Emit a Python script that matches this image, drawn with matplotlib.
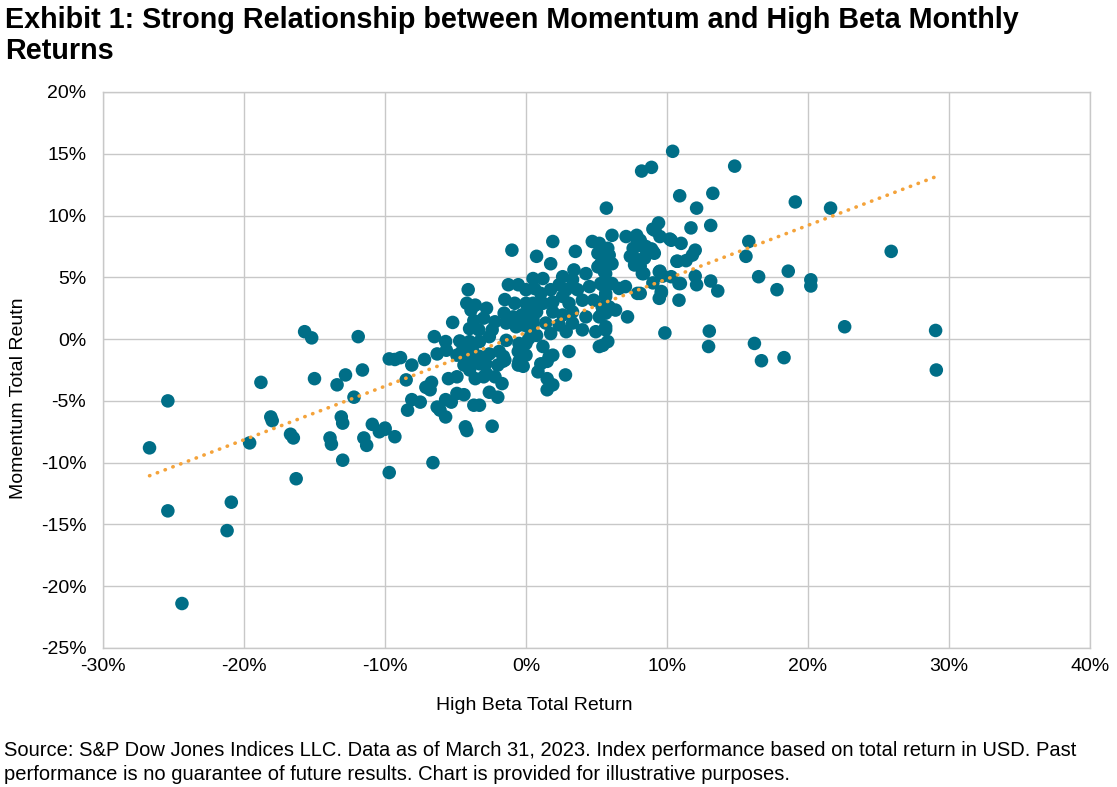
import matplotlib
matplotlib.use("Agg")
import matplotlib.pyplot as plt
import matplotlib.ticker as mticker
import numpy as np

plt.rcParams['font.family'] = ['Liberation Sans', 'DejaVu Sans']

# ---- data (percent) ----
high_beta = [
    -26.7, -25.4, -25.4, -24.4, -21.2, -20.9, -18.8, -19.6, -18.1, -18.0, -16.7, -16.5, -16.3,
    -15.7, -15.2, -15.0, -13.9, -13.8, -13.4, -12.8, -13.1, -13.0, -13.0, -12.2, -11.9, -11.6,
    -10.9, -10.4, -10.0, -11.5, -11.3, -9.7, -9.7,
    -4.1, -4.2, -3.6, -2.8, -1.5, -0.8, -5.2, -3.7, -4.0, -2.2, -3.0, -6.5, -5.7, -4.7, -4.0,
    -3.3, -6.3, -9.3, -8.9, -8.1, -7.2, -4.9, -4.1, -3.3, -2.6, -1.9, -1.5, -0.55, -0.2, -8.5,
    -6.7, -7.1, -6.8, -5.5, -4.9, -4.0, -3.6, -2.8, -2.2, -1.7, -4.9, -4.4, -2.6, -2.0, -8.1,
    -7.5, -5.7, -6.3, -5.3, -3.7, -3.3, -8.4, -6.1, -5.7, -4.3, -4.2, -2.4, -10.0, -9.3,
    -1.25, -0.55, -6.6, -1.0,
    -3.9, 0.0, -3.35, -2.4, -1.55, -0.9, -0.3, -1.4, -0.7, 0.15, 0.5, -4.0, -2.6, -1.4, -0.5,
    0.2, -5.65, -4.5, -3.8, -1.6, -0.55, 0.0, -4.4, -3.3, -2.0, -0.5,
    1.9, 0.75, 1.75, 3.5, 5.2, 5.1, 5.65, 0.5, 1.2, 3.4, 2.6, 3.3, 4.25, 5.1, 5.55, 0.0, 0.6,
    1.05, 1.75, 2.35, 2.85, 3.65, 4.5, 5.3, 5.65, 0.5, 1.2, 1.9, 2.6, 3.05, 4.0, 4.8, 5.4, 0.0,
    0.75, 1.9, 2.6, 3.3, 4.25, 5.2, 5.65, -0.2, 0.5, 1.4, 2.35, 3.3, 0.75, 1.75, 2.85, 4.0,
    4.95, 0.0, 1.2, 1.9, 3.05, 5.2,
    5.7, 6.1, 7.1, 7.85, 7.9, 4.7, 9.15, 9.4, 5.8, 5.9, 7.6, 7.4, 7.7, 8.4, 9.0,
    10.3, 11.0, 8.5, 9.1, 7.55, 5.3, 6.1, 10.75, 8.25, 9.45, 10.85, 5.65, 6.1, 5.4, 6.6, 7.05,
    7.9, 9.6, 9.45, 10.85, 5.65, 5.9, 5.4, 6.35, 7.2, 5.65, 5.65, 9.85, 5.8, 5.45,
    10.4, 8.9, 8.2, 14.8, 13.25, 10.9, 12.1, 9.0, 9.5, 11.7, 13.1, 10.2, 8.1, 8.3, 8.9, 8.4,
    12.0, 11.8, 11.35, 10.7, 15.8, 15.6, 8.1, 8.35, 9.5, 9.7, 10.3, 12.0, 12.1, 13.1, 13.6,
    10.95, 9.0, 16.5, 17.8, 18.6, 8.1, 9.6, 13.0, 12.95, 16.2, 16.7, 18.3,
    19.1, 21.6, 25.9, 20.2, 20.2, 22.6, 29.05, 29.1,
    1.65, -2.85, -1.65, 1.05, 1.5, 0.85, 2.8, -3.0, 1.5, 1.9, 1.5,
]
momentum = [
    -8.8, -5.0, -13.9, -21.4, -15.5, -13.2, -3.5, -8.4, -6.3, -6.6, -7.7, -8.0, -11.3,
    0.6, 0.1, -3.2, -8.0, -8.5, -3.7, -2.9, -6.3, -6.8, -9.8, -4.7, 0.2, -2.5,
    -6.9, -7.5, -7.3, -8.0, -8.6, -1.6, -10.8,
    4.0, 2.9, 2.75, 2.5, 3.2, 2.9, 1.35, 1.5, 0.85, 1.4, 1.7, 0.2, -0.2, -0.15, -0.5,
    -0.2, -1.2, -1.65, -1.5, -2.1, -1.65, -1.3, -1.7, -1.4, -1.2, -1.0, -1.7, -2.1, -2.2, -3.3,
    -3.5, -3.9, -4.1, -3.2, -3.05, -2.5, -3.2, -2.8, -3.05, -3.6, -4.4, -4.5, -4.3, -4.7, -4.9,
    -5.1, -4.9, -5.5, -5.1, -5.35, -5.35, -5.75, -5.75, -6.3, -7.1, -7.4, -7.05, -7.2, -7.9,
    4.4, 4.4, -10.0, 7.2,
    2.35, 2.9, 0.75, 0.75, 2.1, 1.8, 1.95, 1.3, 1.0, 1.0, 1.55, -0.2, 0.2, -0.1, -0.35,
    0.05, -0.9, -0.9, -0.9, -1.4, -1.0, -1.3, -2.1, -2.0, -2.1, -1.8,
    7.9, 6.7, 6.1, 7.1, 7.75, 6.95, 6.7, 4.9, 4.9, 5.6, 5.05, 4.8, 5.3, 5.85, 5.45, 4.0, 4.1,
    3.7, 4.0, 4.4, 4.0, 4.0, 4.25, 4.5, 3.7, 2.9, 2.9, 3.0, 3.45, 2.9, 3.15, 3.15, 2.6, 2.1,
    2.2, 2.2, 1.95, 2.2, 1.8, 1.8, 2.1, 1.15, 1.15, 1.3, 1.15, 1.3, 0.3, 0.45, 0.6, 0.75,
    0.6, -0.35, -0.6, -1.3, -1.0, -0.6,
    10.6, 8.4, 8.3, 8.4, 8.0, 7.9, 8.8, 9.4, 7.35, 6.8, 7.35, 6.7, 6.0, 6.55, 7.1,
    8.0, 7.75, 7.5, 6.95, 6.8, 6.1, 6.1, 6.3, 5.3, 5.45, 4.5, 5.3, 4.5, 4.4, 4.1, 4.25,
    3.7, 3.85, 3.3, 3.15, 3.45, 2.6, 2.1, 2.35, 1.8, 1.0, 0.75, 0.5, -0.2, -0.5,
    15.2, 13.9, 13.6, 14.0, 11.8, 11.6, 10.6, 8.9, 8.3, 9.0, 9.2, 8.1, 8.0, 7.5, 7.3, 6.6,
    7.2, 6.8, 6.35, 6.3, 7.9, 6.7, 5.9, 5.3, 5.5, 5.1, 5.05, 5.1, 4.4, 4.7, 3.9,
    4.5, 4.55, 5.05, 4.0, 5.5, 3.7, 3.75, 0.65, -0.6, -0.35, -1.75, -1.5,
    11.1, 10.6, 7.1, 4.8, 4.3, 1.0, 0.7, -2.5,
    -1.4, -2.0, -1.8, -2.0, -1.8, -2.65, -2.9, -3.05, -3.2, -3.7, -4.1,
]
# linear trend line (y = slope * x + intercept, percent)
trend_slope = 0.434
trend_intercept = 0.53

x_ticks = [-30, -20, -10, 0, 10, 20, 30, 40]
y_ticks = [-25, -20, -15, -10, -5, 0, 5, 10, 15, 20]

title_lines = ["Exhibit 1: Strong Relationship between Momentum and High Beta Monthly",
               "Returns"]
x_label = "High Beta Total Return"
y_label = "Momentum Total Reutn"
source_lines = ["Source: S&P Dow Jones Indices LLC. Data as of March 31, 2023. Index performance based on total return in USD. Past",
                "performance is no guarantee of future results. Chart is provided for illustrative purposes."]

# ---- figure ----
W, H = 1117, 787
fig = plt.figure(figsize=(W / 100, H / 100), dpi=100)
ax = fig.add_axes([103 / W, 1 - 648 / H, (1090 - 103) / W, (648 - 92) / H])

grid_c = '#C8C8C8'
ax.set_xlim(-30, 40)
ax.set_ylim(-25, 20)
ax.set_xticks(x_ticks)
ax.set_yticks(y_ticks)
ax.xaxis.set_major_formatter(mticker.FuncFormatter(lambda v, p: f"{v:.0f}%"))
ax.yaxis.set_major_formatter(mticker.FuncFormatter(lambda v, p: f"{v:.0f}%"))
ax.grid(True, color=grid_c, linewidth=1.0)
ax.set_axisbelow(True)
for s in ax.spines.values():
    s.set_color(grid_c)
    s.set_linewidth(1.0)
ax.tick_params(length=0, labelsize=14, colors='#000000')
ax.tick_params(axis='x', pad=7)
ax.tick_params(axis='y', pad=12)

hb = np.array(high_beta)
mo = np.array(momentum)
ax.scatter(hb, mo, s=95, color='#006E87', edgecolors='none', zorder=3)

xt = np.array([hb.min(), hb.max()])
ax.plot(xt, trend_slope * xt + trend_intercept, color='#F4A33B', linewidth=2.6,
        linestyle=(0, (0.1, 2.2)), dash_capstyle='round', zorder=4)

fig.text(534 / W, 1 - 705 / H, x_label, fontsize=14, ha='center', va='center')
fig.text(19 / W, 1 - 398 / H, y_label, fontsize=14, ha='center', va='center', rotation=90)

fig.text(5 / W, 1 - 28 / H, title_lines[0], fontsize=20.7, fontweight='bold', va='baseline', ha='left')
fig.text(5 / W, 1 - 59 / H, title_lines[1], fontsize=20.7, fontweight='bold', va='baseline', ha='left')
fig.text(4 / W, 1 - 756 / H, source_lines[0], fontsize=14.5, va='baseline', ha='left')
fig.text(4 / W, 1 - 780 / H, source_lines[1], fontsize=14.5, va='baseline', ha='left')

fig.savefig("out.png", dpi=100)
